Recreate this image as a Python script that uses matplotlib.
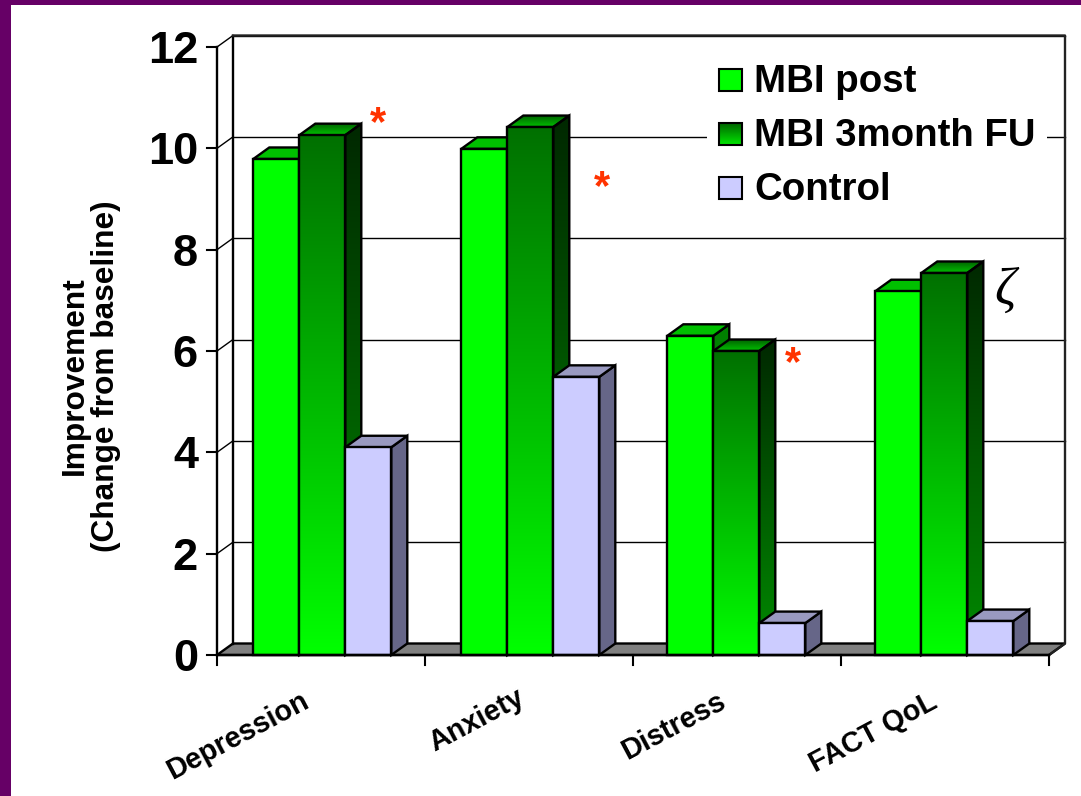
import numpy as np
import matplotlib
matplotlib.use("Agg")
import matplotlib.pyplot as plt
from matplotlib.patches import Polygon, Rectangle
from matplotlib.colors import LinearSegmentedColormap

categories = ["Depression", "Anxiety", "Distress", "FACT QoL"]
mbi_post = [9.79, 9.99, 6.30, 7.18]
mbi_3month = [10.26, 10.42, 6.00, 7.54]
control = [4.10, 5.49, 0.63, 0.67]
series_names = ["MBI post", "MBI 3month FU", "Control"]
y_ticks = [0, 2, 4, 6, 8, 10, 12]

W, H = 1081, 796
FONT = "Liberation Sans"
fig = plt.figure(figsize=(W / 100, H / 100), dpi=100, facecolor="white")
L, B, R, T = 217, 655, 1049, 47
ax = fig.add_axes([L / W, 1 - B / H, (R - L) / W, (B - T) / H])
ax.set_xlim(0, 4)
ax.set_ylim(0, 12)
ax.axis("off")

# depth of the pseudo-3D in data units
dx = 16 / ((R - L) / 4)
dy = 11.5 / ((B - T) / 12)
EDGE = dict(edgecolor="black", linewidth=1.7, joinstyle="miter")


def poly(pts, fc, z, **kw):
    p = Polygon(pts, closed=True, facecolor=fc, zorder=z, clip_on=False, **{**EDGE, **kw})
    ax.add_patch(p)
    return p


def grad(pts, c_top, c_bot, z, y_top, y_bot):
    cm = LinearSegmentedColormap.from_list("g", [c_top, c_bot])
    xs = [p[0] for p in pts]
    img = ax.imshow(np.linspace(0, 1, 256)[:, None], cmap=cm, aspect="auto",
                    extent=[min(xs), max(xs), y_bot, y_top], zorder=z, origin="upper",
                    interpolation="bilinear")
    patch = poly(pts, "none", z + 0.01)
    img.set_clip_path(patch)
    img.set_clip_on(True)


# floor
poly([(0, 0), (4, 0), (4 + dx, dy), (dx, dy)], "#808080", 1)
# walls and grid
for v in y_ticks[1:]:
    ax.plot([dx, 4 + dx], [v + dy, v + dy], color="black", lw=1.0, zorder=1.5, clip_on=False)
    ax.plot([0, dx], [v, v + dy], color="black", lw=1.0, zorder=1.5, clip_on=False)
ax.plot([dx, dx], [dy, 12 + dy], color="black", lw=1.7, zorder=1.6, clip_on=False)
ax.plot([dx, 4 + dx, 4 + dx, 4], [12 + dy, 12 + dy, dy, 0], color="#222222", lw=1.7, zorder=1.6, clip_on=False)
ax.plot([0, 0], [0, 12], color="black", lw=1.7, zorder=1.6, clip_on=False)
ax.plot([0, 4], [0, 0], color="black", lw=1.7, zorder=6, clip_on=False)

# ticks
for v in y_ticks:
    ax.plot([-10 / 208, 0], [v, v], color="black", lw=1.5, clip_on=False, zorder=6)
    ax.text(-19 / 208, v, str(v), ha="right", va="center_baseline", fontsize=32.5,
            fontweight="bold", family=FONT, clip_on=False)
for i in range(5):
    ax.plot([i, i], [0, -10 / 50.67], color="black", lw=1.5, clip_on=False, zorder=6)

# bars
bw = 46 / 208
start = 36.3 / 208
group_shift = [0, 0, -2 / 208, -2 / 208]
for i in range(4):
    x0 = i + start + group_shift[i]
    for j, vals in enumerate([mbi_post, mbi_3month, control]):
        a = x0 + j * bw
        b = a + bw
        v = vals[i]
        z = 3 + j * 0.2
        front = [(a, 0), (b, 0), (b, v), (a, v)]
        side = [(b, 0), (b + dx, dy), (b + dx, v + dy), (b, v)]
        top = [(a, v), (b, v), (b + dx, v + dy), (a + dx, v + dy)]
        if j == 0:
            poly(side, "#008000", z)
            poly(top, "#00C000", z)
            poly(front, "#00FF00", z + 0.05)
        elif j == 1:
            grad(side, "#002800", "#008800", z, v + dy, dy)
            grad(top, "#006000", "#00C000", z, v + dy, v)
            grad(front, "#007000", "#00FF00", z + 0.05, v, 0)
        else:
            poly(side, "#666688", z)
            poly(top, "#9999C0", z)
            poly(front, "#CCCCFF", z + 0.05)

ax.set_xlim(0, 4)
ax.set_ylim(0, 12)

# overlay axes in pixel coordinates for legend and annotations
leg_ax = fig.add_axes([0, 0, 1, 1], facecolor="none")
leg_ax.set_xlim(0, W)
leg_ax.set_ylim(H, 0)
leg_ax.axis("off")
leg_ax.add_patch(Rectangle((707, 60), 340, 150, facecolor="white", edgecolor="none", zorder=1))
cols = ["#00FF00", None, "#CCCCFF"]
for name, c, yc in zip(series_names, cols, [79.5, 133.5, 187.5]):
    if c is None:
        cm = LinearSegmentedColormap.from_list("l", ["#006000", "#00E000"])
        leg_ax.imshow(np.linspace(0, 1, 64)[:, None], cmap=cm, aspect="auto",
                      extent=[719, 741.5, yc + 11, yc - 11], zorder=2)
        leg_ax.set_xlim(0, W)
        leg_ax.set_ylim(H, 0)
        leg_ax.add_patch(Rectangle((719, yc - 11), 22.5, 22, facecolor="none", edgecolor="black", lw=1.5, zorder=3))
    else:
        leg_ax.add_patch(Rectangle((719, yc - 11), 22.5, 22, facecolor=c, edgecolor="black", lw=1.5, zorder=3))
    leg_ax.text(754, yc + 3, name, fontsize=27.6, fontweight="bold", family=FONT, va="center", ha="left", zorder=4)

# annotations
for x, y in [(378, 124), (602, 188), (793, 364)]:
    leg_ax.text(x, y, "*", color="#FF3300", fontsize=30, fontweight="bold", family=FONT,
                ha="center", va="center", zorder=5)
leg_ax.text(1005, 291, "\u03b6", fontsize=38, family="Liberation Serif", style="italic",
            ha="center", va="center", zorder=5)

# category labels
for s, x, y in zip(categories, [238, 477, 674, 873], [736, 720, 726, 733]):
    leg_ax.text(x, y, s, fontsize=20.7, fontweight="bold", family=FONT, rotation=28,
                ha="center", va="center", rotation_mode="anchor")

# y title
leg_ax.text(90, 376, "Improvement\n(Change from baseline)", fontsize=22.8, fontweight="bold", family=FONT,
            rotation=90, ha="center", va="center", multialignment="center", linespacing=1.05)

# slide frame
leg_ax.add_patch(Rectangle((0, 0), W, 5, facecolor="#660066", edgecolor="none", zorder=10))
leg_ax.add_patch(Rectangle((0, 0), 11, H, facecolor="#660066", edgecolor="none", zorder=10))

fig.savefig("out.png", dpi=100, facecolor="white")
